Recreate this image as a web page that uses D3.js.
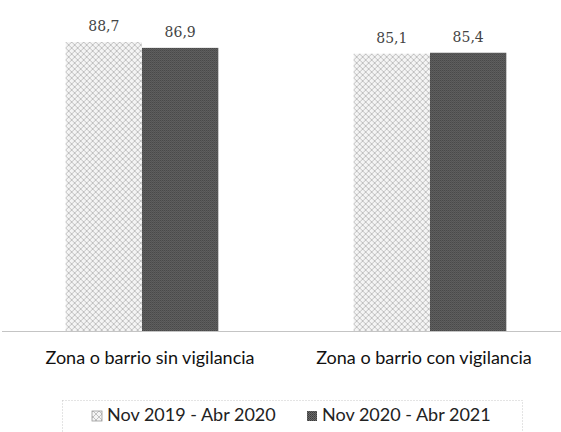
<!DOCTYPE html>
<html>
<head>
<meta charset="utf-8">
<script src="https://cdn.jsdelivr.net/npm/d3@7"></script>
<style>
  body { margin: 0; background: #fff; }
  svg { display: block; }
</style>
</head>
<body>
<script>
const categories = ['Zona o barrio sin vigilancia', 'Zona o barrio con vigilancia'];
const series = ['Nov 2019 - Abr 2020', 'Nov 2020 - Abr 2021'];
const values2019 = [88.7, 85.1];
const values2020 = [86.9, 85.4];

const width = 561;
const height = 432;
const baseline = 331;

const svg = d3.select('body').append('svg')
  .attr('width', width)
  .attr('height', height);

const defs = svg.append('defs');

// light crosshatch pattern
const light = defs.append('pattern')
  .attr('id', 'light')
  .attr('patternUnits', 'userSpaceOnUse')
  .attr('width', 6)
  .attr('height', 6);
light.append('rect').attr('width', 6).attr('height', 6).attr('fill', '#f4f4f4');
light.append('path')
  .attr('d', 'M0,0 L6,6 M6,0 L0,6')
  .attr('stroke', '#b4b4b4')
  .attr('stroke-width', 0.8);

// dark fine checker pattern
const dark = defs.append('pattern')
  .attr('id', 'dark')
  .attr('patternUnits', 'userSpaceOnUse')
  .attr('width', 2)
  .attr('height', 2);
dark.append('rect').attr('width', 2).attr('height', 2).attr('fill', '#6a6a6a');
dark.append('rect').attr('width', 1).attr('height', 1).attr('fill', '#3a3a3a');
dark.append('rect').attr('x', 1).attr('y', 1).attr('width', 1).attr('height', 1).attr('fill', '#4a4a4a');

const fills = ['url(#light)', 'url(#dark)'];

const x0 = d3.scaleBand()
  .domain(categories)
  .range([-2, 574])
  .paddingInner(0.47)
  .paddingOuter(0.235);

const x1 = d3.scaleBand()
  .domain(series)
  .range([0, x0.bandwidth()]);

const y = d3.scaleLinear()
  .domain([0, 88.7])
  .range([baseline, 42]);

const rows = categories.map((c, i) => ({
  category: c,
  values: [
    { key: series[0], value: values2019[i] },
    { key: series[1], value: values2020[i] }
  ]
}));

const groups = svg.selectAll('g.group')
  .data(rows)
  .enter().append('g')
  .attr('class', 'group')
  .attr('transform', d => `translate(${x0(d.category)},0)`);

groups.selectAll('rect')
  .data(d => d.values)
  .enter().append('rect')
  .attr('x', d => x1(d.key))
  .attr('y', d => y(d.value))
  .attr('width', x1.bandwidth())
  .attr('height', d => baseline - y(d.value))
  .attr('fill', (d, i) => fills[i]);

groups.selectAll('text.value')
  .data(d => d.values)
  .enter().append('text')
  .attr('class', 'value')
  .attr('x', d => x1(d.key) + x1.bandwidth() / 2)
  .attr('y', d => y(d.value) - 11)
  .attr('text-anchor', 'middle')
  .attr('font-family', 'DejaVu Serif, Liberation Serif, serif')
  .attr('font-size', 14)
  .attr('fill', '#444')
  .text(d => d3.format('.1f')(d.value).replace('.', ','));

// baseline axis
svg.append('line')
  .attr('x1', 2)
  .attr('x2', width)
  .attr('y1', baseline + 0.5)
  .attr('y2', baseline + 0.5)
  .attr('stroke', '#c4c4c4')
  .attr('stroke-width', 1);

const labelShift = [8, -6];
svg.selectAll('text.cat')
  .data(categories)
  .enter().append('text')
  .attr('class', 'cat')
  .attr('x', (d, i) => x0(d) + x0.bandwidth() / 2 + labelShift[i])
  .attr('y', 364)
  .attr('text-anchor', 'middle')
  .attr('font-family', 'Lato, Open Sans, sans-serif')
  .attr('font-size', 18)
  .attr('fill', '#111')
  .text(d => d);

// legend
const legend = svg.append('g').attr('id', 'legend');

legend.append('rect')
  .attr('x', 62.5)
  .attr('y', 400.5)
  .attr('width', 460)
  .attr('height', 40)
  .attr('fill', 'none')
  .attr('stroke', '#c8c8c8')
  .attr('stroke-dasharray', '1,2');

const legendX = [92, 307];
series.forEach((s, i) => {
  legend.append('rect')
    .attr('x', legendX[i])
    .attr('y', 411)
    .attr('width', 10)
    .attr('height', 10)
    .attr('fill', fills[i])
    .attr('stroke', i === 0 ? '#999' : 'none')
    .attr('stroke-width', 0.8);
  legend.append('text')
    .attr('x', legendX[i] + 15)
    .attr('y', 421)
    .attr('font-family', 'Lato, Open Sans, sans-serif')
    .attr('font-size', 18)
    .attr('fill', '#222')
    .text(s);
});
</script>
</body>
</html>
